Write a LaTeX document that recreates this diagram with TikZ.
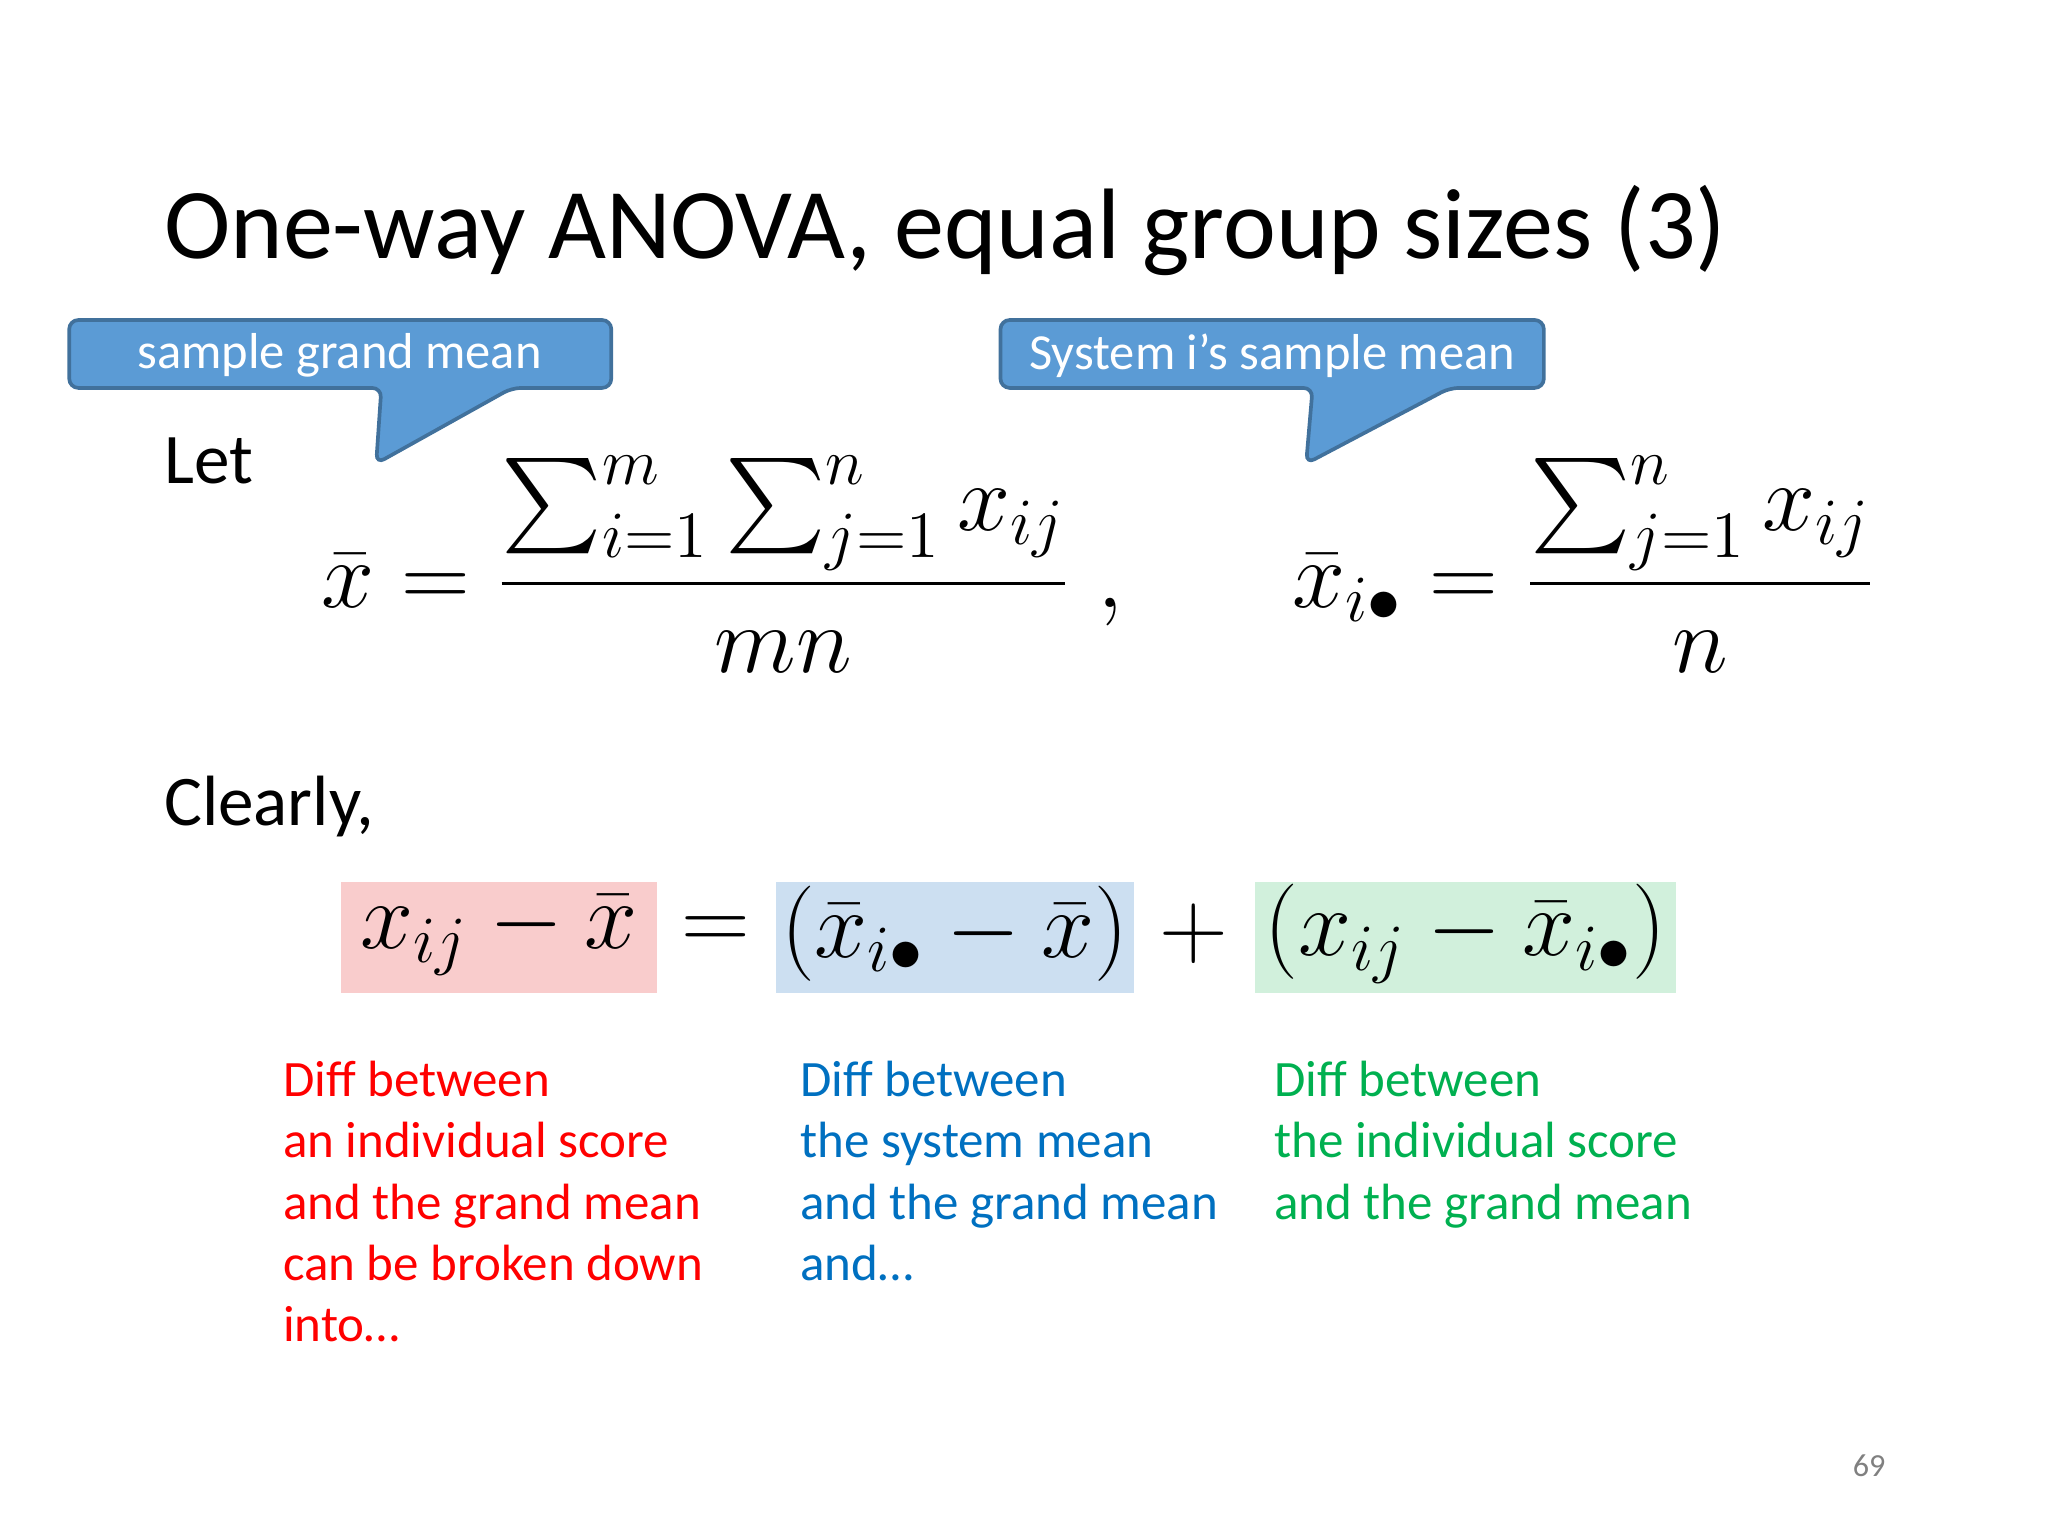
\documentclass[tikz,border=0pt]{standalone}
\usepackage{fontspec}
\setmainfont{Carlito}
\usepackage{amsmath}
\definecolor{cbfill}{HTML}{5B9BD5}
\definecolor{cbdraw}{HTML}{41719C}
\definecolor{tred}{HTML}{FF0000}
\definecolor{tblue}{HTML}{0070C0}
\definecolor{tgreen}{HTML}{00B050}
\definecolor{bred}{HTML}{F9CCCC}
\definecolor{bblue}{HTML}{CCDFF1}
\definecolor{bgreen}{HTML}{D1F0DC}
\tikzset{
  calltext/.style={text=white,font=\fontsize{11}{14}\selectfont,anchor=center},
  callout/.style={fill=cbfill,draw=cbdraw,line width=0.8pt,rounded corners=2pt},
  body/.style={font=\fontsize{15.5}{18}\selectfont,anchor=base west},
  eq/.style={font=\fontsize{21}{25}\selectfont,anchor=center,inner sep=0pt},
  eqb/.style={font=\fontsize{20.5}{24}\selectfont,anchor=center,inner sep=0pt},
  note/.style={font=\fontsize{11.1}{13.3}\selectfont,anchor=north west,align=left,inner sep=0pt},
}
\begin{document}
\begin{tikzpicture}[x=0.01cm,y=-0.01cm]
\useasboundingbox (0,0) rectangle (1568,1176);
\node[anchor=base west,font=\fontsize{21.8}{26}\selectfont,inner sep=0pt] (title) at (125,198) {One-way ANOVA, equal group sizes (3)};
% callouts
\draw[callout] (53,245) -- (468,245) -- (468,297) -- (392,297) -- (288,355) -- (292,297) -- (53,297) -- cycle;
\node[calltext] (c1) at (260,272) {sample grand mean};
\draw[callout] (766,245) -- (1182,245) -- (1182,297) -- (1110,297) -- (1000,355) -- (1005,297) -- (766,297) -- cycle;
\node[calltext] (c2) at (974,272) {System i’s sample mean};
\node[body,inner sep=0pt] (let) at (125,370) {Let};
\node[eq] (f1) at (553,432) {$\bar x = \dfrac{\sum_{i=1}^m \sum_{j=1}^n x_{ij}}{mn}\;,$};
\node[eq] (f2) at (1213,432) {$\bar x_{i\bullet} = \dfrac{\sum_{j=1}^n x_{ij}}{n}$};
\node[body,inner sep=0pt] (clearly) at (125,632) {Clearly,};
% boxes
\fill[bred] (261,675) rectangle (503,760);
\fill[bblue] (594,675) rectangle (868,760);
\fill[bgreen] (961,675) rectangle (1283,760);
\node[eqb] (e1) at (382,715) {$x_{ij}-\bar x$};
\node[eqb] (e2) at (548,715) {$=$};
\node[eqb] (e3) at (731,715) {$(\bar x_{i\bullet}-\bar x)$};
\node[eqb] (e4) at (914,715) {$+$};
\node[eqb] (e5) at (1122,715) {$(x_{ij}-\bar x_{i\bullet})$};
\node[note,text=tred] (n1) at (216,812) {Diff between\\an individual score\\and the grand mean\\can be broken down\\into…};
\node[note,text=tblue] (n2) at (612,812) {Diff between\\the system mean\\and the grand mean\\and…};
\node[note,text=tgreen] (n3) at (975,812) {Diff between\\the individual score\\and the grand mean};
\node[font=\fontsize{7}{8}\selectfont,text=gray,anchor=center] (pg) at (1431,1122) {69};
\end{tikzpicture}
\end{document}
